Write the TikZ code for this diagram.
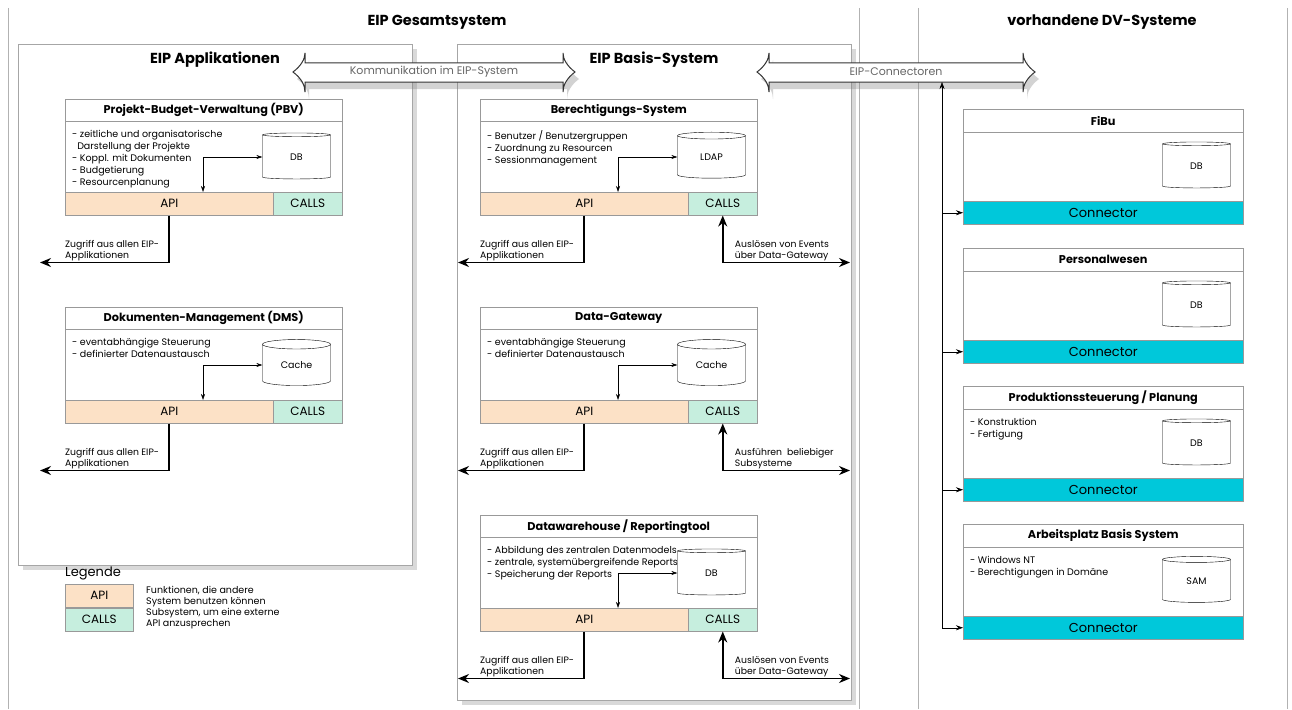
\documentclass[tikz,border=0pt]{standalone}
\usepackage{fontspec}
\setmainfont{Poppins}
\usetikzlibrary{arrows.meta,calc,positioning,shapes.geometric,shadows}
\definecolor{apicol}{RGB}{252,225,198}
\definecolor{callcol}{RGB}{198,238,222}
\definecolor{conncol}{RGB}{0,200,218}

\begin{document}
\begin{tikzpicture}[x=1pt,y=-1pt,>=Stealth,
  frame/.style={draw=gray!70, line width=0.6pt, fill=white,
    drop shadow={shadow xshift=5pt,shadow yshift=-5pt,opacity=0.3}},
  sysbox/.style={draw=gray!80, line width=0.5pt, anchor=north west, inner sep=0,
    minimum width=#1, minimum height=116},
  titlebar/.style={draw=gray!80, line width=0.5pt, anchor=north west, inner sep=0,
    minimum width=#1, minimum height=22, font=\bfseries\fontsize{11.3}{13}\selectfont},
  bar/.style={draw=gray!80, line width=0.5pt, inner sep=0, minimum height=23,
    font=\fontsize{12}{14}\selectfont},
  body/.style={anchor=north west, align=left, inner sep=0, font=\fontsize{9.5}{12}\selectfont},
  dbcyl/.style={cylinder, shape border rotate=90, aspect=0.3, draw, fill=white,
    minimum width=68, minimum height=46, inner sep=0, font=\fontsize{9.5}{11}\selectfont},
  inner/.style={<->, line width=0.5pt, >={Stealth[length=6,width=4]}},
  outer/.style={line width=1.6pt, >={Stealth[length=11,width=9]}},
  note/.style={anchor=south west, align=left, inner sep=0, font=\fontsize{9.3}{11}\selectfont},
  big/.style={font=\bfseries\fontsize{14.5}{17}\selectfont}]

  \useasboundingbox (0,0) rectangle (1292,709);

  % outer lines and frames
  \foreach \x in {8,859,918,1287}
    \draw[gray!60, line width=0.5pt] (\x,8) -- (\x,709);
  \draw[frame] (18,44) rectangle (412,565);
  \draw[frame] (457,44) rectangle (851,700);

  \node[big] (gesamt) at (437,22) {EIP Gesamtsystem};
  \node[big] (vorh) at (1102,22) {vorhandene DV-Systeme};
  \node[big] (appl) at (215,60) {EIP Applikationen};
  \node[big] (basis) at (654,60) {EIP Basis-System};

  % EIP subsystems
  \foreach \n/\x/\y/\t/\db/\body/\lx in {
    pbv/65/99/{Projekt-Budget-Verwaltung (PBV)}/DB/{- zeitliche und organisatorische\\\ \ Darstellung der Projekte\\- Koppl. mit Dokumenten\\- Budgetierung\\- Resourcenplanung}/40,
    dms/65/307/{Dokumenten-Management (DMS)}/Cache/{- eventabhängige Steuerung\\- definierter Datenaustausch}/40,
    ber/480/99/{Berechtigungs-System}/LDAP/{- Benutzer / Benutzergruppen\\- Zuordnung zu Resourcen\\- Sessionmanagement}/458,
    dgw/480/307/{Data-Gateway}/Cache/{- eventabhängige Steuerung\\- definierter Datenaustausch}/458,
    dwh/480/515/{Datawarehouse / Reportingtool}/DB/{- Abbildung des zentralen Datenmodels\\- zentrale, systemübergreifende Reports\\- Speicherung der Reports}/458} {
    \node[sysbox=277] (\n) at (\x,\y) {};
    \node[titlebar=277] (\n-t) at (\n.north west) {\t};
    \node[bar, fill=apicol, anchor=south west, minimum width=208] (\n-api) at (\n.south west) {API};
    \node[bar, fill=callcol, anchor=south east, minimum width=69] (\n-calls) at (\n.south east) {CALLS};
    \node[body] (\n-txt) at ($(\n.north west)+(7,31)$) {\body};
    \node[dbcyl] (\n-db) at ($(\n.north east)+(-46,58)$) {\db};
    \draw[inner] ($(\n-api.north west)+(138,0)$) |- (\n-db.west);
    \coordinate (\n-out) at ($(\n-api.south)+(0,47)$);
    \draw[outer,->] (\n-api.south) -- (\n-out) -- (\lx,0 |- \n-out);
    \node[note] at ($(\n.south west |- \n-out)+(0,-1)$) {Zugriff aus allen EIP-\\Applikationen};
  }

  % calls of the basis system
  \foreach \n/\txt in {ber/{Auslösen von Events\\über Data-Gateway},
      dgw/{Ausführen\ \ beliebiger\\Subsysteme},
      dwh/{Auslösen von Events\\über Data-Gateway}} {
    \coordinate (\n-in) at ($(\n-calls.south)+(0,47)$);
    \draw[outer,<->] (\n-calls.south) -- (\n-in) -- (850,0 |- \n-in);
    \node[note] at ($(\n-in)+(12,-1)$) {\txt};
  }

  % existing systems
  \foreach \n/\y/\t/\db/\body in {
    fibu/109/FiBu/DB/{},
    pers/248/Personalwesen/DB/{},
    prod/386/{Produktionssteuerung / Planung}/DB/{- Konstruktion\\- Fertigung},
    abs/524/{Arbeitsplatz Basis System}/SAM/{- Windows NT\\- Berechtigungen in Domäne}} {
    \node[sysbox=280, minimum height=115] (\n) at (963,\y) {};
    \node[titlebar=280, minimum height=23] (\n-t) at (\n.north west) {\t};
    \node[bar, fill=conncol, anchor=south west, minimum width=280,
      font=\fontsize{13}{15}\selectfont] (\n-con) at (\n.south west) {Connector};
    \node[dbcyl] (\n-db) at ($(\n.north east)+(-47,57)$) {\db};
    \node[body] (\n-txt) at ($(\n.north west)+(7,32)$) {\body};
  }

  % big double arrows
  \foreach \a/\b/\c/\txt in {293/575/kom/{Kommunikation im EIP-System}, 757/1035/conn/{EIP-Connectoren}} {
    \filldraw[fill=white, draw=black!80, line width=1pt,
      drop shadow={shadow xshift=4pt,shadow yshift=-7pt,opacity=0.35}]
      (\a,72) .. controls (\a+8,66) and (\a+12,59) .. (\a+12,53) -- (\a+12,63)
      -- (\b-12,63) -- (\b-12,53) .. controls (\b-12,59) and (\b-8,66) .. (\b,72)
      .. controls (\b-8,78) and (\b-12,85) .. (\b-12,92) -- (\b-12,82)
      -- (\a+12,82) -- (\a+12,92) .. controls (\a+12,85) and (\a+8,78) .. (\a,72) -- cycle;
    \node[text=gray!80!black, font=\fontsize{11}{13}\selectfont] (\c) at ({(\a+\b)/2},72) {\txt};
  }

  % connector trunk
  \coordinate (conn-in) at (942,82);
  \draw[line width=0.5pt, ->, >={Stealth[length=7,width=5]}] (conn-in |- abs-con.west) -- (conn-in);
  \foreach \n in {fibu,pers,prod,abs}
    \draw[line width=0.5pt, ->, >={Stealth[length=7,width=5]}] (conn-in |- \n-con.west) -- (\n-con.west);

  % legend
  \node[anchor=south west, inner sep=0, font=\fontsize{13}{15}\selectfont] (leg) at (65,580) {Legende};
  \node[bar, fill=apicol, anchor=north west, minimum width=68] (leg-api) at (65,584) {API};
  \node[bar, fill=callcol, minimum width=68, below=0 of leg-api] (leg-calls) {CALLS};
  \node[body, font=\fontsize{9.5}{11}\selectfont] (leg-txt) at (146,586)
    {Funktionen, die andere\\System benutzen können\\Subsystem, um eine externe\\API anzusprechen};
\end{tikzpicture}
\end{document}
